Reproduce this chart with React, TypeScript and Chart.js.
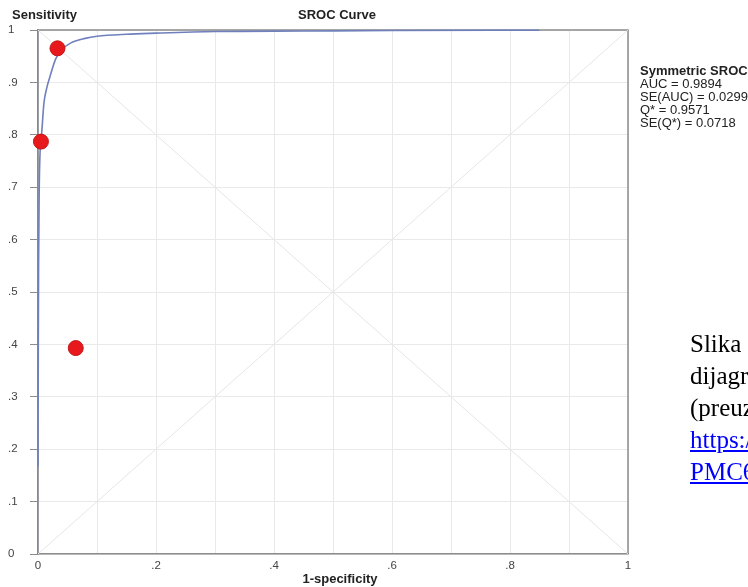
import React, { useEffect, useRef } from "react";
import { Chart, registerables } from "chart.js";

Chart.register(...registerables);

// ---- data ----
const curveFpr = [0, 0.0005, 0.001, 0.002, 0.004, 0.006, 0.01, 0.015, 0.02, 0.03, 0.04, 0.055, 0.08, 0.1, 0.15, 0.2, 0.3, 0.45, 0.6, 0.85];
const curveSens = [0.167, 0.4, 0.55, 0.69, 0.78, 0.8, 0.86, 0.89, 0.91, 0.945, 0.962, 0.975, 0.984, 0.988, 0.992, 0.994, 0.997, 0.998, 0.999, 0.9995];

const studyFpr = [0.033, 0.005, 0.064];
const studySens = [0.965, 0.787, 0.393];

const diagFpr = [0, 1];
const diagSens = [0, 1];
const antiDiagSens = [1, 0];

const xTickLabels = ["0", ".2", ".4", ".6", ".8", "1"];
const yTickLabels = ["0", ".1", ".2", ".3", ".4", ".5", ".6", ".7", ".8", ".9", "1"];

const yAxisTitle = "Sensitivity";
const chartTitle = "SROC Curve";
const xAxisTitle = "1-specificity";
const legendTitle = "Symmetric SROC";
const legendLines = ["AUC = 0.9894", "SE(AUC) = 0.0299", "Q* = 0.9571", "SE(Q*) = 0.0718"];

const captionLines = ["Slika 5.", "dijagram", "(preuzeto", "https://www.ncbi.nlm.nih.gov/", "PMC6"];

const SANS = '"Liberation Sans", Arial, sans-serif';
const AXIS_GRAY = "#868a90";
const GRID = "#e9e9e9";

const pts = (xs: number[], ys: number[]) => xs.map((x, i) => ({ x, y: ys[i] }));

export default function App() {
  const ref = useRef<HTMLCanvasElement | null>(null);

  useEffect(() => {
    if (!ref.current) return;

    const framePlugin = {
      id: "frame",
      beforeDatasetsDraw(chart: any) {
        const { ctx, chartArea: a } = chart;
        ctx.save();
        ctx.strokeStyle = "#8c8c8c";
        ctx.lineWidth = 1.5;
        ctx.beginPath();
        ctx.moveTo(a.left, a.top);
        ctx.lineTo(a.right, a.top);
        ctx.lineTo(a.right, a.bottom);
        ctx.stroke();
        ctx.restore();
      },
      afterDraw(chart: any) {
        const { ctx } = chart;
        ctx.save();
        ctx.fillStyle = "#222";
        ctx.textBaseline = "alphabetic";
        ctx.font = `bold 13px ${SANS}`;
        ctx.textAlign = "left";
        ctx.fillText(yAxisTitle, 12, 19);
        ctx.textAlign = "center";
        ctx.fillText(chartTitle, 337, 19);
        ctx.fillText(xAxisTitle, 340, 583);
        ctx.textAlign = "left";
        ctx.font = `bold 13px ${SANS}`;
        ctx.fillText(legendTitle, 640, 74.5);
        ctx.font = `13px ${SANS}`;
        legendLines.forEach((t, i) => ctx.fillText(t, 640, 74.5 + 13.1 * (i + 1)));
        ctx.restore();
      },
    };

    const chart = new Chart(ref.current, {
      type: "scatter",
      data: {
        datasets: [
          {
            label: "Studies",
            data: pts(studyFpr, studySens),
            backgroundColor: "#e8191c",
            borderColor: "#c41518",
            borderWidth: 1,
            pointRadius: 7.5,
            showLine: false,
            clip: false,
          } as any,
          {
            label: "SROC",
            data: pts(curveFpr, curveSens),
            showLine: true,
            borderColor: "#7080bd",
            borderWidth: 1.6,
            pointRadius: 0,
            cubicInterpolationMode: "monotone",
            clip: false,
          } as any,
          {
            label: "diag",
            data: pts(diagFpr, diagSens),
            showLine: true,
            borderColor: "#e6e6e6",
            borderWidth: 1,
            pointRadius: 0,
          } as any,
          {
            label: "antidiag",
            data: pts(diagFpr, antiDiagSens),
            showLine: true,
            borderColor: "#e6e6e6",
            borderWidth: 1,
            pointRadius: 0,
          } as any,
        ],
      },
      options: {
        responsive: false,
        animation: false,
        events: [],
        layout: { padding: { left: 8, top: 30, right: 120, bottom: 0 } },
        plugins: { legend: { display: false }, tooltip: { enabled: false }, title: { display: false } },
        scales: {
          x: {
            type: "linear",
            min: 0,
            max: 1,
            border: { color: "#8c8c8c", width: 1.5 },
            grid: { color: GRID, lineWidth: 1, drawTicks: false },
            ticks: {
              stepSize: 0.1,
              autoSkip: false,
              maxRotation: 0,
              padding: 5,
              color: "#444",
              font: { family: SANS, size: 11.5 },
              callback: (_v: any, i: number) => (i % 2 === 0 ? xTickLabels[i / 2] : ""),
            },
            afterFit: (s: any) => {
              s.height = 33;
            },
          },
          y: {
            type: "linear",
            min: 0,
            max: 1,
            border: { color: AXIS_GRAY, width: 1.8 },
            grid: { color: GRID, lineWidth: 1, drawTicks: true, tickLength: 8, tickColor: "#8c8c8c" },
            ticks: {
              stepSize: 0.1,
              autoSkip: false,
              crossAlign: "far",
              color: "#444",
              font: { family: SANS, size: 11.5 },
              callback: (_v: any, i: number) => yTickLabels[i],
            },
            afterFit: (s: any) => {
              s.width = 30;
            },
          },
        },
      } as any,
      plugins: [framePlugin],
    });

    return () => chart.destroy();
  }, []);

  return (
    <div style={{ position: "absolute", left: 0, top: 0, width: 748, height: 587, overflow: "hidden", background: "#fff" }}>
      <canvas ref={ref} width={748} height={587} style={{ position: "absolute", left: 0, top: 0, width: 748, height: 587 }} />
      <div
        style={{
          position: "absolute",
          left: 690,
          top: 328,
          fontFamily: '"Liberation Serif", "Times New Roman", serif',
          fontSize: 25,
          lineHeight: "32px",
          whiteSpace: "nowrap",
          color: "#000",
        }}
      >
        {captionLines.map((t, i) =>
          i >= 3 ? (
            <div key={i}>
              <a href="#" style={{ color: "#0000ff", textDecoration: "underline" }}>{t}</a>
            </div>
          ) : (
            <div key={i}>{t}</div>
          )
        )}
      </div>
    </div>
  );
}
